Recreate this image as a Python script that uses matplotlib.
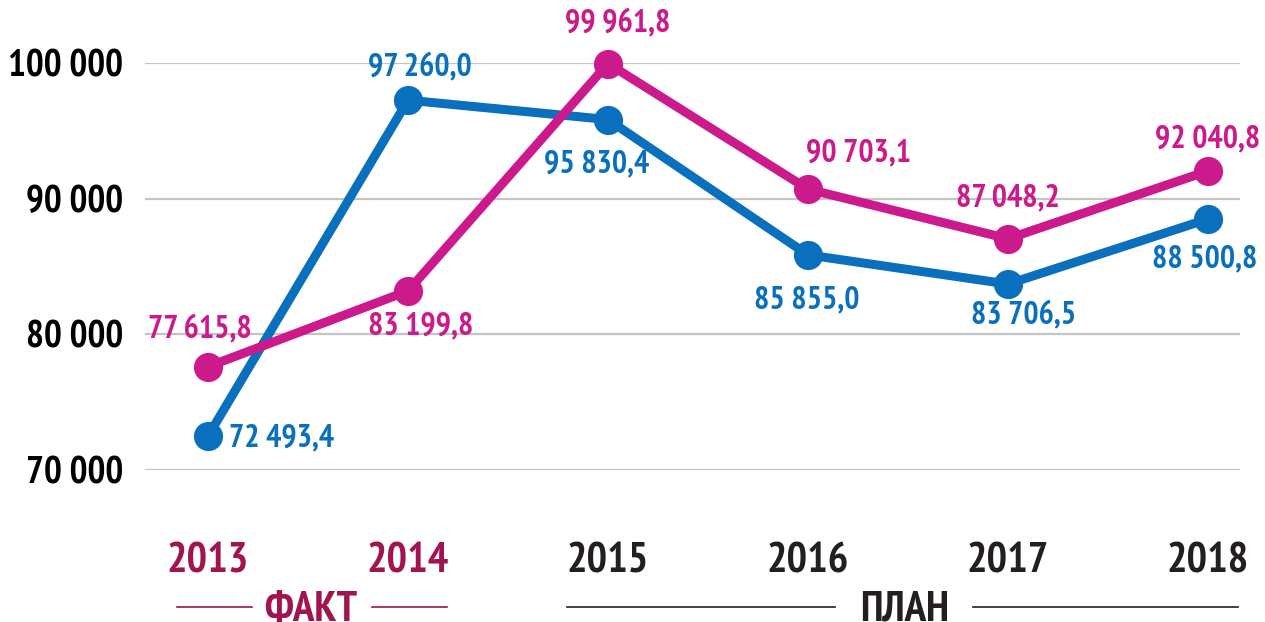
import matplotlib.pyplot as plt
from matplotlib.transforms import blended_transform_factory

years = ['2013', '2014', '2015', '2016', '2017', '2018']
fact = [77615.8, 83199.8, 99961.8, 90703.1, 87048.2, 92040.8]
plan = [72493.4, 97260.0, 95830.4, 85855.0, 83706.5, 88500.8]
yticks = [70000, 80000, 90000, 100000]

MAG = '#cc1a8c'
BLUE = '#0a6fbd'
DARKMAG = '#a0144f'
DARK = '#231f20'

plt.rcParams['font.family'] = ['PT Sans Narrow', 'DejaVu Sans']
plt.rcParams['font.weight'] = 'bold'


def fmt(v, dec=True):
    s = f'{v:,.1f}' if dec else f'{v:,.0f}'
    return s.replace(',', ' ').replace('.', ',')


fig = plt.figure(figsize=(12.65, 6.22), dpi=100)
ax = fig.add_axes([145 / 1265, (622 - 470) / 622, 1095 / 1265, 407 / 622])
x = list(range(len(years)))
ax.set_xlim(-0.315, 5.16)
ax.set_ylim(70000, 100000)

for t in yticks:
    ax.axhline(t, color='#c4c4c4', lw=1.6, zorder=0)

ax.plot(x, plan, color=BLUE, lw=6.5, marker='o', ms=20, clip_on=False, zorder=3)
ax.plot(x, fact, color=MAG, lw=6.5, marker='o', ms=20, clip_on=False, zorder=4)

# label offsets in pixels (dx, dy, ha)
fact_off = [(-8, 37, 'center'), (13, -35, 'center'), (10, 40, 'center'),
            (50, 36, 'center'), (0, 40, 'center'), (0, 32, 'center')]
plan_off = [(21, -2, 'left'), (12, 33, 'center'), (-11, -45, 'center'),
            (-1, -45, 'center'), (16, -31, 'center'), (-3, -40, 'center')]
for xi, v, (dx, dy, ha) in zip(x, fact, fact_off):
    ax.annotate(fmt(v), (xi, v), xytext=(dx, dy), textcoords='offset pixels',
                ha=ha, va='center', color=MAG, fontsize=23, fontweight='bold',
                annotation_clip=False, zorder=5)
for xi, v, (dx, dy, ha) in zip(x, plan, plan_off):
    ax.annotate(fmt(v), (xi, v), xytext=(dx, dy), textcoords='offset pixels',
                ha=ha, va='center', color=BLUE, fontsize=23, fontweight='bold',
                annotation_clip=False, zorder=5)

ax.set_yticks(yticks)
ax.set_yticklabels([fmt(t, False) for t in yticks], fontsize=27, fontweight='bold', color='black')
ax.tick_params(axis='y', length=0, pad=16)
ax.set_xticks([])
for s in ax.spines.values():
    s.set_visible(False)

trans = blended_transform_factory(ax.transData, fig.transFigure)
for xi, yr in zip(x, years):
    ax.text(xi, 1 - 562 / 622, yr, transform=trans, ha='center', va='center',
            fontsize=31, fontweight='bold', color=DARKMAG if xi < 2 else DARK)


# group labels with side lines (figure pixel coords)
def group(label, cx, l1, l2, color):
    fy = 1 - 607 / 622
    fig.text(cx / 1265, 1 - 610 / 622, label, ha='center', va='center',
             fontsize=31, fontweight='bold', color=color)
    for a, b in (l1, l2):
        fig.add_artist(plt.Line2D([a / 1265, b / 1265], [fy, fy], color=color, lw=1.2))


group('ФАКТ', 311, (177, 252), (372, 447), DARKMAG)
group('ПЛАН', 905, (567, 835), (973, 1238), DARK)

fig.savefig('out.png', dpi=100)
